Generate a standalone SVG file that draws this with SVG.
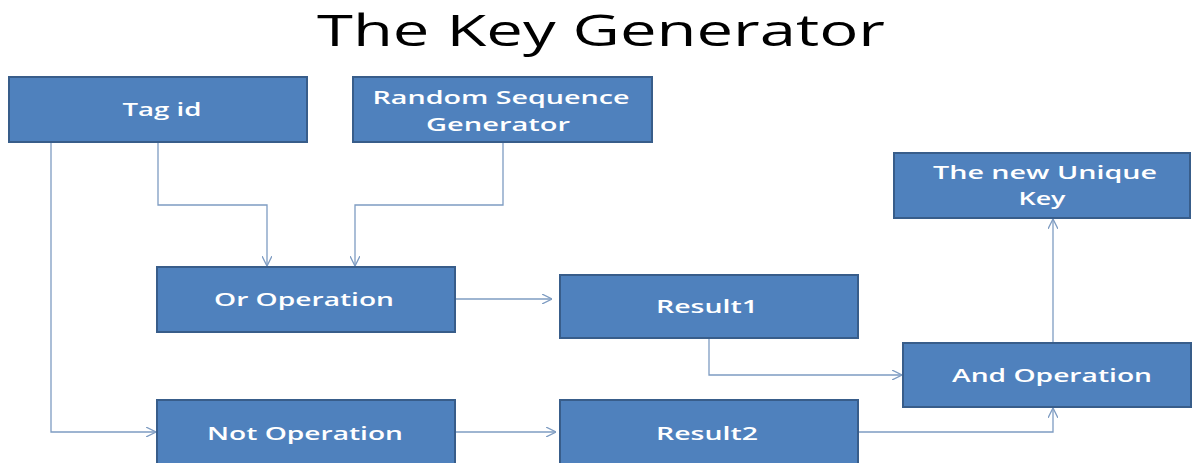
<svg xmlns="http://www.w3.org/2000/svg" width="1195" height="463" viewBox="0 0 1195 463">
<style>
.box{fill:#4F81BD;stroke:#385D8A;stroke-width:2}
.lbl{fill:#ffffff;font-family:"Open Sans",Lato,"Liberation Sans",sans-serif;font-size:18.5px;font-weight:600;text-anchor:middle}
.title{fill:#000000;font-family:"Open Sans",Lato,"Liberation Sans",sans-serif;font-size:44px;text-anchor:middle}
.conn{fill:none;stroke:#7E9CC2;stroke-width:1.3}
</style>
<defs>
<marker id="arr" viewBox="0 0 10 10" refX="10" refY="5" markerWidth="10" markerHeight="10" markerUnits="userSpaceOnUse" orient="auto">
<path d="M0,0 L10,5 L0,10" fill="none" stroke="#7E9CC2" stroke-width="1.3"/>
</marker>
</defs>
<rect width="1195" height="463" fill="#ffffff"/>
<text class="title" x="601" y="46" textLength="568" lengthAdjust="spacingAndGlyphs">The Key Generator</text>
<g id="connectors">
<path class="conn" d="M51,142 V432 H156" marker-end="url(#arr)"/>
<path class="conn" d="M158,142 V205 H267 V266" marker-end="url(#arr)"/>
<path class="conn" d="M503,142 V205 H355 V266" marker-end="url(#arr)"/>
<path class="conn" d="M455,299 H552" marker-end="url(#arr)"/>
<path class="conn" d="M455,432 H556" marker-end="url(#arr)"/>
<path class="conn" d="M709,338 V375 H902" marker-end="url(#arr)"/>
<path class="conn" d="M858,432 H1053 V408" marker-end="url(#arr)"/>
<path class="conn" d="M1053,343 V219" marker-end="url(#arr)"/>
</g>
<g id="tagid">
<rect class="box" x="9" y="77" width="298" height="65"/>
<text class="lbl" x="162" y="116" textLength="79" lengthAdjust="spacingAndGlyphs">Tag id</text>
</g>
<g id="random">
<rect class="box" x="353" y="77" width="299" height="65"/>
<text class="lbl" x="501" y="104" textLength="257" lengthAdjust="spacingAndGlyphs">Random Sequence</text>
<text class="lbl" x="498" y="131" textLength="144" lengthAdjust="spacingAndGlyphs">Generator</text>
</g>
<g id="newkey">
<rect class="box" x="894" y="153" width="296" height="65"/>
<text class="lbl" x="1045" y="179" textLength="224" lengthAdjust="spacingAndGlyphs">The new Unique</text>
<text class="lbl" x="1042" y="205" textLength="47" lengthAdjust="spacingAndGlyphs">Key</text>
</g>
<g id="or">
<rect class="box" x="157" y="267" width="298" height="65"/>
<text class="lbl" x="304" y="306" textLength="180" lengthAdjust="spacingAndGlyphs">Or Operation</text>
</g>
<g id="result1">
<rect class="box" x="560" y="275" width="298" height="63"/>
<text class="lbl" x="707" y="313" textLength="102" lengthAdjust="spacingAndGlyphs">Result1</text>
</g>
<g id="and">
<rect class="box" x="903" y="343" width="288" height="64"/>
<text class="lbl" x="1052" y="382" textLength="200" lengthAdjust="spacingAndGlyphs">And Operation</text>
</g>
<g id="not">
<rect class="box" x="157" y="400" width="298" height="66"/>
<text class="lbl" x="305" y="440" textLength="196" lengthAdjust="spacingAndGlyphs">Not Operation</text>
</g>
<g id="result2">
<rect class="box" x="560" y="400" width="298" height="66"/>
<text class="lbl" x="707" y="440" textLength="102" lengthAdjust="spacingAndGlyphs">Result2</text>
</g>
</svg>
